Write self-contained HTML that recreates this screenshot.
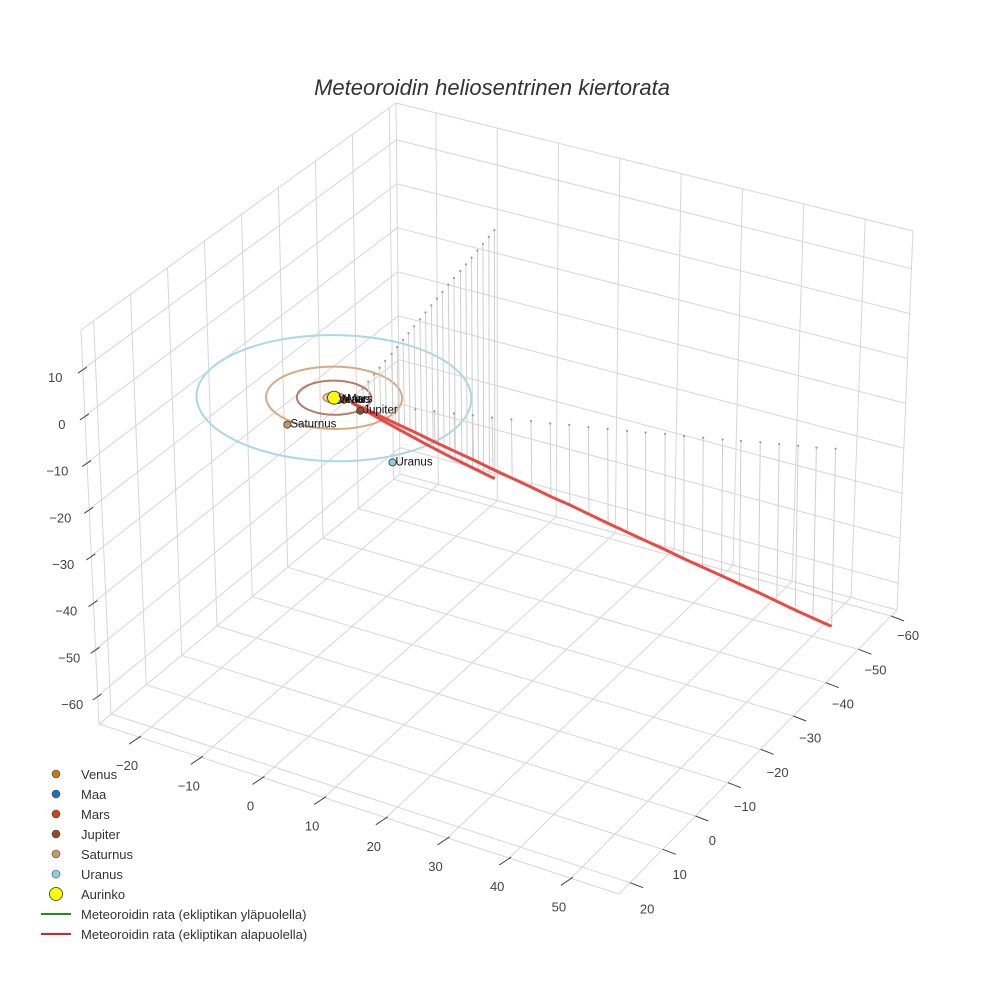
<!DOCTYPE html>
<html><head><meta charset="utf-8"><style>
body{margin:0;background:#fff;}
svg{display:block;font-family:"Liberation Sans",sans-serif;}
</style></head><body>
<svg id="chart" width="984" height="984" viewBox="0 0 984 984">
<rect width="984" height="984" fill="#fff"/>
<text x="492" y="95" text-anchor="middle" font-size="22" font-style="italic" fill="#333">Meteoroidin heliosentrinen kiertorata</text>
<g id="grid"></g>
<g id="axes"></g>
<g id="orbits"></g>
<g id="drops"></g>
<g id="traj"></g>
<g id="planets"></g>
<g id="legend">
 <g><circle cx="56" cy="774" r="4" fill="#c27a14" stroke="#444" stroke-width="0.6"/><text x="81" y="779" font-size="13" fill="#333">Venus</text></g>
 <g><circle cx="56" cy="794" r="4" fill="#1f6fb4" stroke="#444" stroke-width="0.6"/><text x="81" y="799" font-size="13" fill="#333">Maa</text></g>
 <g><circle cx="56" cy="814" r="4" fill="#c8461a" stroke="#444" stroke-width="0.6"/><text x="81" y="819" font-size="13" fill="#333">Mars</text></g>
 <g><circle cx="56" cy="834" r="4" fill="#8b4f2f" stroke="#444" stroke-width="0.6"/><text x="81" y="839" font-size="13" fill="#333">Jupiter</text></g>
 <g><circle cx="56" cy="854" r="4" fill="#c49a6c" stroke="#444" stroke-width="0.6"/><text x="81" y="859" font-size="13" fill="#333">Saturnus</text></g>
 <g><circle cx="56" cy="874" r="4" fill="#8ecfe0" stroke="#444" stroke-width="0.6"/><text x="81" y="879" font-size="13" fill="#333">Uranus</text></g>
 <g><circle cx="56" cy="894" r="6.5" fill="#ffff00" stroke="#333" stroke-width="0.8"/><text x="81" y="899" font-size="13" fill="#333">Aurinko</text></g>
 <g><line x1="41" y1="914" x2="71" y2="914" stroke="#1a8f1a" stroke-width="2"/><text x="81" y="919" font-size="13" fill="#333">Meteoroidin rata (ekliptikan yläpuolella)</text></g>
 <g><line x1="41" y1="934" x2="71" y2="934" stroke="#e02020" stroke-width="2"/><text x="81" y="939" font-size="13" fill="#333">Meteoroidin rata (ekliptikan alapuolella)</text></g>
</g>
</svg>
<script>
// ---- data ----
const xTicks = [-20,-10,0,10,20,30,40,50];
const yTicks = [-60,-50,-40,-30,-20,-10,0,10,20];
const zTicks = [-60,-50,-40,-30,-20,-10,0,10];
const planetNames = ["Venus","Maa","Mars","Jupiter","Saturnus","Uranus"];
const planetX = [0.5,0.9,1.5,5.1,-1.4,16.8];
const planetY = [0.5,0.3,-0.2,1.5,10.5,12.6];
const planetZ = [0,0,0,0,0,0];
const planetColors = ["#c27a14","#1f6fb4","#c8461a","#8b4f2f","#c49a6c","#8ecfe0"];
const orbitRadii = [0.72,1.0,1.52,5.2,9.5,19.2];
const orbitColors = ["#e0a070","#7fa8d0","#e08a6a","#b57d68","#d6ab86","#a9d9e4"];
const sunPos = [0,0,0];
// trajectory branch 1 (below ecliptic)
const t1X = [2.4,2.0,1.6,1.2,0.8,0.4,0.1,-0.3,-0.7,-1.1,-1.5,-1.9,-2.3,-2.7,-3.1,-3.5,-3.9,-4.3,-4.6,-5.0,-5.4,-5.8,-6.2,-6.6,-7.0];
const t1Y = [-2.2,-4.5,-6.7,-9.0,-11.2,-13.4,-15.7,-17.9,-20.2,-22.4,-24.6,-26.9,-29.1,-31.4,-33.6,-35.8,-38.1,-40.3,-42.6,-44.8,-47.0,-49.3,-51.5,-53.8,-56.0];
const t1Z = [-2.2,-4.5,-6.7,-9.0,-11.2,-13.4,-15.7,-17.9,-20.2,-22.4,-24.6,-26.9,-29.1,-31.4,-33.6,-35.8,-38.1,-40.3,-42.6,-44.8,-47.0,-49.3,-51.5,-53.8,-56.0];
const t1Top = [0,0,0,0,0,0,0,0,0,0,0,0,0,0,0,0,0,0,0,0,0,0,0,0,0];
// trajectory branch 2 (below ecliptic)
const t2X = [7.75,9.95,12.1,14.3,16.4,18.6,20.8,23.0,25.2,27.3,29.5,31.7,33.9,36.0,38.2,40.4,42.6,44.8,46.9,49.1,51.3,53.5,55.6,57.8];
const t2Y = [-3.7,-5.4,-7.0,-8.7,-10.3,-11.9,-13.5,-15.2,-16.8,-18.5,-20.1,-21.7,-23.4,-25.0,-26.7,-28.3,-29.9,-31.6,-33.2,-34.9,-36.5,-38.1,-39.7,-41.4];
const t2Z = [-4.9,-7.1,-9.3,-11.5,-13.6,-15.8,-17.9,-20.1,-22.3,-24.4,-26.6,-28.8,-31.0,-33.1,-35.3,-37.5,-39.6,-41.8,-43.9,-46.1,-48.3,-50.5,-52.6,-54.8];
const t2Top = [-1.5,-2.1,-2.7,-3.4,-4.0,-4.7,-5.3,-5.9,-6.6,-7.2,-7.9,-8.5,-9.2,-9.8,-10.4,-11.1,-11.7,-12.4,-13.0,-13.6,-14.3,-14.9,-15.6,-16.2];
const trajStart = [2.8,0,0];

// ---- projection (box corners) ----
const XR=[-26.5,57.8], YR=[-61.8,23.4], ZR=[-66,18.4];
const CB={'00':[400,474],'01':[99,724],'10':[897,610],'11':[619,894]};
const CT={'00':[396,103],'01':[81,330],'10':[913,231],'11':[605,475]};
function lerp(a,b,t){return [a[0]+(b[0]-a[0])*t,a[1]+(b[1]-a[1])*t];}
function plane(C,u,v){const a=lerp(C['00'],C['01'],v),b=lerp(C['10'],C['11'],v);return lerp(a,b,u);}
function P(x,y,z){const u=(x-XR[0])/(XR[1]-XR[0]),v=(y-YR[0])/(YR[1]-YR[0]),w=(z-ZR[0])/(ZR[1]-ZR[0]);return lerp(plane(CB,u,v),plane(CT,u,v),w);}
const NS='http://www.w3.org/2000/svg';
function mk(tag,attrs,parent){const e=document.createElementNS(NS,tag);for(const k in attrs)e.setAttribute(k,attrs[k]);parent.appendChild(e);return e;}
function seg(a,b,parent,stroke,sw){return mk('line',{x1:a[0].toFixed(1),y1:a[1].toFixed(1),x2:b[0].toFixed(1),y2:b[1].toFixed(1),stroke:stroke,'stroke-width':sw},parent);}

const grid=document.getElementById('grid'), axes=document.getElementById('axes');
const GC='#d6d6d6';
// floor + walls edges
[[XR[0],YR[0]],[XR[0],YR[1]],[XR[1],YR[0]]].forEach(p=>{const l=seg(P(p[0],p[1],ZR[0]),P(p[0],p[1],ZR[1]),grid,GC,1);});
[[P(XR[0],YR[0],ZR[0]),P(XR[0],YR[1],ZR[0])],[P(XR[0],YR[0],ZR[0]),P(XR[1],YR[0],ZR[0])],[P(XR[0],YR[1],ZR[0]),P(XR[1],YR[1],ZR[0])],[P(XR[1],YR[0],ZR[0]),P(XR[1],YR[1],ZR[0])],[P(XR[0],YR[0],ZR[1]),P(XR[0],YR[1],ZR[1])],[P(XR[0],YR[0],ZR[1]),P(XR[1],YR[0],ZR[1])]].forEach(s=>{const l=seg(s[0],s[1],grid,GC,1);});
xTicks.forEach(x=>{
  const l1=seg(P(x,YR[0],ZR[0]),P(x,YR[1],ZR[0]),grid,GC,1);
  
  
  const l2=seg(P(x,YR[0],ZR[0]),P(x,YR[0],ZR[1]),grid,GC,1);
  
  
  const e=P(x,YR[1],ZR[0]);
  const tk=seg([e[0]+2,e[1]-1],[e[0]-10,e[1]+7],axes,'#444',1);
  
  
  const t=mk('text',{x:(e[0]-12).toFixed(1),y:(e[1]+33).toFixed(1),'font-size':13,fill:'#444','text-anchor':'middle'},axes);
  t.textContent=String(x).replace('-','\u2212');
  
  
});
yTicks.forEach(y=>{
  const l1=seg(P(XR[0],y,ZR[0]),P(XR[1],y,ZR[0]),grid,GC,1);
  
  
  const l2=seg(P(XR[0],y,ZR[0]),P(XR[0],y,ZR[1]),grid,GC,1);
  
  
  const e=P(XR[1],y,ZR[0]);
  const v=(y-YR[0])/(YR[1]-YR[0]);
  const tk=seg([e[0],e[1]],[e[0]+13,e[1]+5],axes,'#444',1);
  
  
  const t=mk('text',{x:(e[0]+17).toFixed(1),y:(e[1]+24+7*v).toFixed(1),'font-size':13,fill:'#444','text-anchor':'middle'},axes);
  t.textContent=String(y).replace('-','\u2212');
  
  
});
zTicks.forEach(z=>{
  const l1=seg(P(XR[0],YR[0],z),P(XR[0],YR[1],z),grid,GC,1);
  
  
  const l2=seg(P(XR[0],YR[0],z),P(XR[1],YR[0],z),grid,GC,1);
  
  
  const e=P(XR[0],YR[1],z);
  const w=(z-ZR[0])/(ZR[1]-ZR[0]);
  const tk=seg([e[0]+4,e[1]-2],[e[0]-5,e[1]+4],axes,'#444',1);
  
  
  const t=mk('text',{x:(e[0]-14-7*w).toFixed(1),y:(e[1]+13).toFixed(1),'font-size':13,fill:'#444','text-anchor':'end'},axes);
  t.textContent=String(z).replace('-','\u2212');
  
  
});

// orbits
const orb=document.getElementById('orbits');
orbitRadii.forEach((r,i)=>{
  const pts=[];
  for(let k=0;k<=120;k++){const a=k/120*2*Math.PI;const p=P(r*Math.cos(a),r*Math.sin(a),0);pts.push(p[0].toFixed(1)+','+p[1].toFixed(1));}
  const pl=mk('polyline',{points:pts.join(' '),fill:'none',stroke:orbitColors[i],'stroke-width':2},orb);
  
  
});

// drop lines
const drops=document.getElementById('drops');
function dropSeries(X,Y,Z,T,name){
  X.forEach((x,i)=>{
    const a=P(x,Y[i],T[i]), b=P(x,Y[i],Z[i]);
    const l=seg(a,b,drops,'#cfcfcf',1);
    
    
    const d=mk('circle',{cx:a[0].toFixed(1),cy:a[1].toFixed(1),r:1.1,fill:'#999'},drops);
    
    
  });
}
dropSeries(t1X,t1Y,t1Z,t1Top,'drop-line-branch-1');
dropSeries(t2X,t2Y,t2Z,t2Top,'drop-line-branch-2');

// trajectory lines
const traj=document.getElementById('traj');
function trajLine(X,Y,Z,name){
  const s=P(trajStart[0],trajStart[1],trajStart[2]);
  const pts=[s[0].toFixed(1)+','+s[1].toFixed(1)];
  X.forEach((x,i)=>{const p=P(x,Y[i],Z[i]);pts.push(p[0].toFixed(1)+','+p[1].toFixed(1));});
  const pl=mk('polyline',{points:pts.join(' '),fill:'none',stroke:'#e8403c','stroke-width':3,'stroke-opacity':0.95},traj);
  
  
}
trajLine(t1X,t1Y,t1Z,'trajectory-branch-1');
trajLine(t2X,t2Y,t2Z,'trajectory-branch-2');

// planets
const pg=document.getElementById('planets');
const sp=P(sunPos[0],sunPos[1],sunPos[2]);
planetNames.forEach((n,i)=>{
  const p=P(planetX[i],planetY[i],planetZ[i]);
  const c=mk('circle',{cx:p[0].toFixed(1),cy:p[1].toFixed(1),r:3.6,fill:planetColors[i],stroke:'#333','stroke-width':0.8},pg);
  
  
});
const sun=mk('circle',{cx:sp[0].toFixed(1),cy:sp[1].toFixed(1),r:6.5,fill:'#ffff00',stroke:'#333','stroke-width':0.8},pg);


planetNames.forEach((n,i)=>{
  const p=P(planetX[i],planetY[i],planetZ[i]);
  const t=mk('text',{x:(p[0]+3).toFixed(1),y:(p[1]+3).toFixed(1),'font-size':11.5,fill:'#111'},pg);
  t.textContent=n;
  
  
});
</script>
</body></html>
